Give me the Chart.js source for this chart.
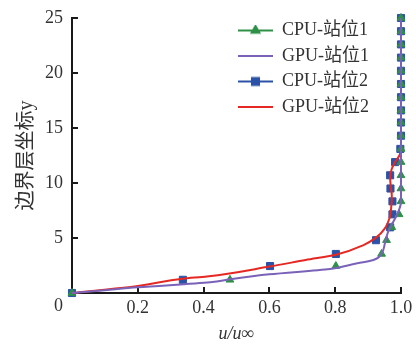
<!DOCTYPE html>
<html>
<head>
<meta charset="utf-8">
<script src="https://cdn.jsdelivr.net/npm/chart.js@4/dist/chart.umd.min.js"></script>
<style>
html,body{margin:0;padding:0;background:#fff;}
#wrap{width:416px;height:345px;}
</style>
</head>
<body>
<div id="wrap"><canvas id="c" width="416" height="345"></canvas></div>
<script>
// ---- data ----
const seriesNames = ['CPU-站位1', 'GPU-站位1', 'CPU-站位2', 'GPU-站位2'];
const cpuY = [0, 1.2, 2.45, 3.55, 4.8, 5.97, 7.15, 8.33, 9.5, 10.7, 11.9, 13.1, 14.3, 15.5, 16.6, 17.8, 19.0, 20.2, 21.4, 22.6, 23.8, 25];
const cpu1U = [0, 0.48, 0.802, 0.941, 0.956, 0.972, 0.994, 1, 1, 1, 1, 1, 1, 1, 1, 1, 1, 1, 1, 1, 1, 1];
const cpu2U = [0, 0.337, 0.602, 0.802, 0.924, 0.967, 0.974, 0.974, 0.968, 0.967, 0.982, 0.998, 1, 1, 1, 1, 1, 1, 1, 1, 1, 1];
const gpu1Y = [0, 0.26, 0.52, 0.97, 1.25, 1.7, 2.18, 2.6, 3.0, 3.6, 4.5, 5.57, 6.5, 7.4, 8.3, 9.5, 25];
const gpu1U = [0, 0.1, 0.2, 0.42, 0.48, 0.6, 0.784, 0.85, 0.916, 0.941, 0.951, 0.961, 0.977, 0.992, 1.0, 1.0, 1.0];
const gpu2Y = [0, 0.64, 1.3, 1.5, 2.4, 3.0, 3.5, 4.36, 5.03, 5.88, 6.8, 7.7, 8.9, 9.6, 10.5, 11.3, 11.9, 12.5, 13.1, 25];
const gpu2U = [0, 0.2, 0.337, 0.41, 0.6, 0.71, 0.805, 0.886, 0.924, 0.951, 0.965, 0.97, 0.972, 0.969, 0.967, 0.972, 0.982, 0.995, 1.0, 1.0];
const xTicks = [0, 0.2, 0.4, 0.6, 0.8, 1.0];
const yTicks = [0, 5, 10, 15, 20, 25];
const originLabel = '0';
const xTitle = 'u/u∞';
const yTitle = '边界层坐标y';

const GREEN = '#2f9047', PURPLE = '#7a62b8', BLUE = '#2b52a6', RED = '#e62822', INK = '#1a1a1a';
const FONT = "'Liberation Serif','Noto Sans CJK SC',serif";

const pts = (xs, ys) => xs.map((x, i) => ({x: x, y: ys[i]}));

function sample(color, style, radius) {
  const c = document.createElement('canvas');
  c.width = 35; c.height = 12;
  const g = c.getContext('2d');
  g.strokeStyle = color; g.lineWidth = 2;
  g.beginPath(); g.moveTo(0, 6); g.lineTo(35, 6); g.stroke();
  if (style) {
    g.fillStyle = color;
    Chart.helpers.drawPoint(g, {pointStyle: style, radius: radius, rotation: 0, borderWidth: 1}, 17.5, 6);
  }
  return c;
}
const samples = [sample(GREEN, 'triangle', 4.5), sample(PURPLE, null), sample(BLUE, 'rect', 5), sample(RED, null)];

const placeLegend = {
  id: 'placeLegend',
  afterLayout(chart) {
    const lg = chart.legend;
    const w = lg.width, h = lg.height;
    lg.left = 230.5; lg.top = 14; lg.right = lg.left + w; lg.bottom = lg.top + h;
  }
};

const gridOpts = {display: true, drawOnChartArea: false, drawTicks: true, tickLength: -6, tickColor: INK, tickWidth: 2, color: INK, lineWidth: 2};

new Chart(document.getElementById('c'), {
  type: 'line',
  data: {
    datasets: [
      {label: seriesNames[0], data: pts(cpu1U, cpuY), showLine: false, pointStyle: 'triangle', pointRadius: 4.5, backgroundColor: GREEN, borderColor: GREEN, pointBorderWidth: 1, order: 3, clip: false},
      {label: seriesNames[1], data: pts(gpu1U, gpu1Y), pointRadius: 0, borderColor: PURPLE, backgroundColor: PURPLE, borderWidth: 2, cubicInterpolationMode: 'monotone', order: 1, clip: false},
      {label: seriesNames[2], data: pts(cpu2U, cpuY), showLine: false, pointStyle: 'rect', pointRadius: 5, backgroundColor: BLUE, borderColor: BLUE, pointBorderWidth: 1, order: 4, clip: false},
      {label: seriesNames[3], data: pts(gpu2U, gpu2Y), pointRadius: 0, borderColor: RED, backgroundColor: RED, borderWidth: 2, cubicInterpolationMode: 'monotone', order: 2, clip: false}
    ]
  },
  options: {
    responsive: false,
    animation: false,
    indexAxis: 'y',
    layout: {padding: {left: 0, right: 15, top: 18, bottom: 0}},
    plugins: {
      tooltip: {enabled: false},
      legend: {
        position: 'chartArea',
        align: 'start',
        labels: {
          font: {family: FONT, size: 18},
          color: '#333',
          usePointStyle: true,
          pointStyleWidth: 35,
          padding: 7.5,
          sort: (a, b) => a.datasetIndex - b.datasetIndex,
          generateLabels(chart) {
            const items = Chart.defaults.plugins.legend.labels.generateLabels(chart);
            items.forEach(it => { it.pointStyle = samples[it.datasetIndex]; });
            return items;
          }
        }
      }
    },
    scales: {
      x: {
        type: 'linear', min: 0, max: 1,
        afterFit: s => { s.height = 52; s.paddingLeft = 0; s.paddingRight = 0; },
        afterBuildTicks: s => { s.ticks = xTicks.map(v => ({value: v})); },
        grid: gridOpts,
        border: {display: true, color: INK, width: 2},
        ticks: {
          padding: 10, color: '#333', font: {family: FONT, size: 18}, maxRotation: 0, autoSkip: false,
          callback: v => v === 0 ? '' : v.toFixed(1)
        },
        title: {display: true, text: xTitle, color: '#333', font: {family: FONT, size: 18, style: 'italic'}, padding: {top: 0, bottom: 0}}
      },
      y: {
        type: 'linear', min: 0, max: 25,
        afterFit: s => { s.width = 72; s.paddingTop = 0; s.paddingBottom = 0; },
        afterBuildTicks: s => { s.ticks = yTicks.map(v => ({value: v})); },
        grid: gridOpts,
        border: {display: true, color: INK, width: 2},
        ticks: {
          padding: 15, color: '#333', autoSkip: false,
          font: c => (c.tick && c.tick.value === 0) ? {family: FONT, size: 18, lineHeight: 1.5} : {family: FONT, size: 18},
          callback: v => v === 0 ? ['', originLabel] : String(v)
        },
        title: {display: true, text: yTitle, color: '#333', font: {family: FONT, size: 20}, padding: {top: 15, bottom: 0}}
      }
    }
  },
  plugins: [placeLegend]
});
</script>
</body>
</html>
